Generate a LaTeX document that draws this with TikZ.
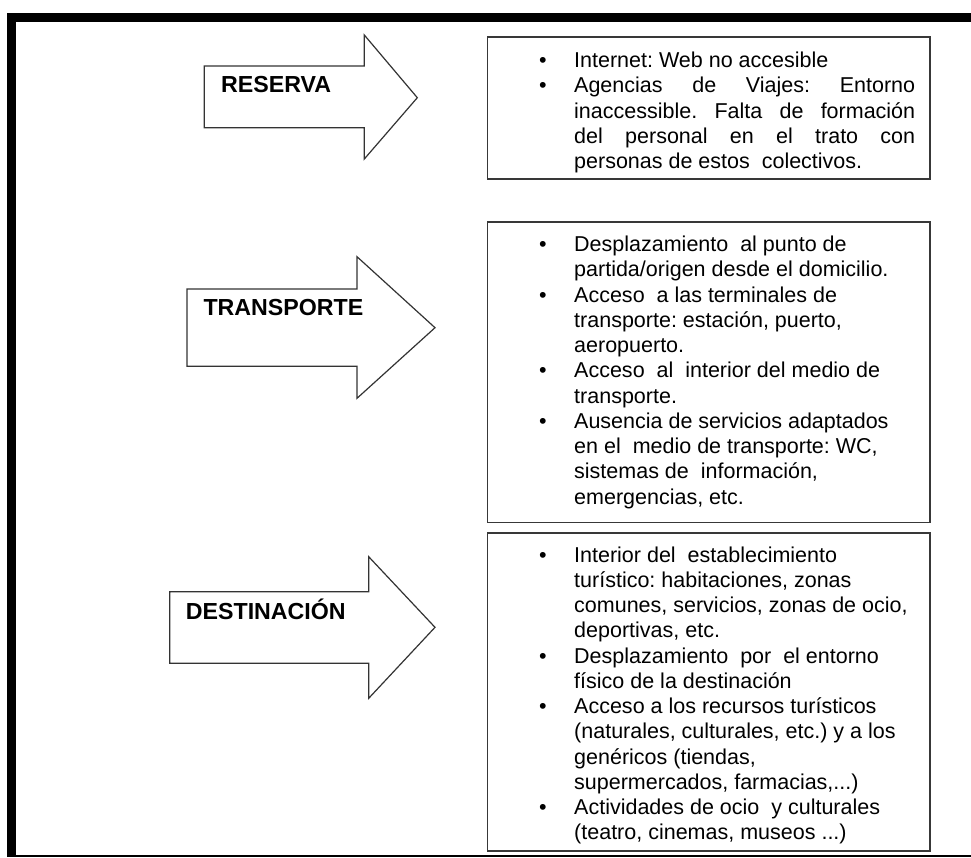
\documentclass[tikz,border=0pt]{standalone}
\usepackage{fontspec}
\setmainfont{Liberation Sans}
\frenchspacing
\newcommand{\bul}{\par\noindent\llap{\textbullet\hspace{27.5pt}}}
\newcommand{\bodyfont}{\fontsize{21.5}{25.25}\selectfont\frenchspacing}
\begin{document}
\begin{tikzpicture}[x=1pt,y=-1pt,
  frame/.style={fill=black},
  box/.style={draw=black!78,line width=1.6pt,inner sep=0pt,fill=white},
  arrowshape/.style={draw=black!80,line width=1.2pt,fill=white,line join=miter},
  label/.style={anchor=base west,inner sep=0pt,font=\fontsize{23.2}{27}\selectfont\bfseries},
  textblock/.style={anchor=base west,inner sep=0pt,align=left}]
\useasboundingbox (0,0) rectangle (971,857);
\fill[white] (0,0) rectangle (971,857);
% outer frame
\fill[frame] (7.3,13.3) rectangle (971,21.7);
\fill[frame] (7.3,13.3) rectangle (16,857);
\fill[frame] (7.3,855) rectangle (971,857);
% boxes
\node[box,minimum width=442.7pt,minimum height=142.3pt] (b1) at (708.65,107.85) {};
\node[box,minimum width=442.7pt,minimum height=300.6pt] (b2) at (708.65,372) {};
\node[box,minimum width=442.7pt,minimum height=318.3pt] (b3) at (708.65,691.85) {};
% arrows
\draw[arrowshape] (204.3,66) -- (364.3,66) -- (364.3,35) -- (417.3,97.7) -- (364.3,159) -- (364.3,127.7) -- (204.3,127.7) -- cycle;
\draw[arrowshape] (187,289) -- (357,289) -- (357,256.7) -- (435,327.7) -- (357,398.3) -- (357,366.3) -- (187,366.3) -- cycle;
\draw[arrowshape] (169.7,591.7) -- (368.7,591.7) -- (368.7,556.7) -- (435,627.3) -- (368.7,698.3) -- (368.7,663.3) -- (169.7,663.3) -- cycle;
% labels
\node[label] (l1) at (221,92.3) {RESERVA};
\node[label] (l2) at (203.3,315) {TRANSPORTE};
\node[label] (l3) at (185.7,619) {DESTINACIÓN};
% texts
\node[textblock] (t1) at (574,67.5) {\parbox[t]{341pt}{\bodyfont
\bul Internet: Web no accesible
\bul Agencias de Viajes: Entorno\linebreak inaccessible. Falta de formación\linebreak del personal en el trato con\linebreak personas de estos\ \ colectivos.}};
\node[textblock] (t2) at (574,251.5) {\parbox[t]{350pt}{\bodyfont\raggedright
\bul Desplazamiento\ \ al punto de\\ partida/origen desde el domicilio.
\bul Acceso\ \ a las terminales de\\ transporte: estación, puerto,\\ aeropuerto.
\bul Acceso\ \ al\ \ interior del medio de\\ transporte.
\bul Ausencia de servicios adaptados\\ en el\ \ medio de transporte: WC,\\ sistemas de\ \ información,\\ emergencias, etc.}};
\node[textblock] (t3) at (574,562) {\parbox[t]{350pt}{\bodyfont\raggedright
\bul Interior del\ \ establecimiento\\ turístico: habitaciones, zonas\\ comunes, servicios, zonas de ocio,\\ deportivas, etc.
\bul Desplazamiento\ \ por\ \ el entorno\\ físico de la destinación
\bul Acceso a los recursos turísticos\\ (naturales, culturales, etc.) y a los\\ genéricos (tiendas,\\ supermercados, farmacias,...)
\bul Actividades de ocio\ \ y culturales\\ (teatro, cinemas, museos ...)}};
\end{tikzpicture}
\end{document}
